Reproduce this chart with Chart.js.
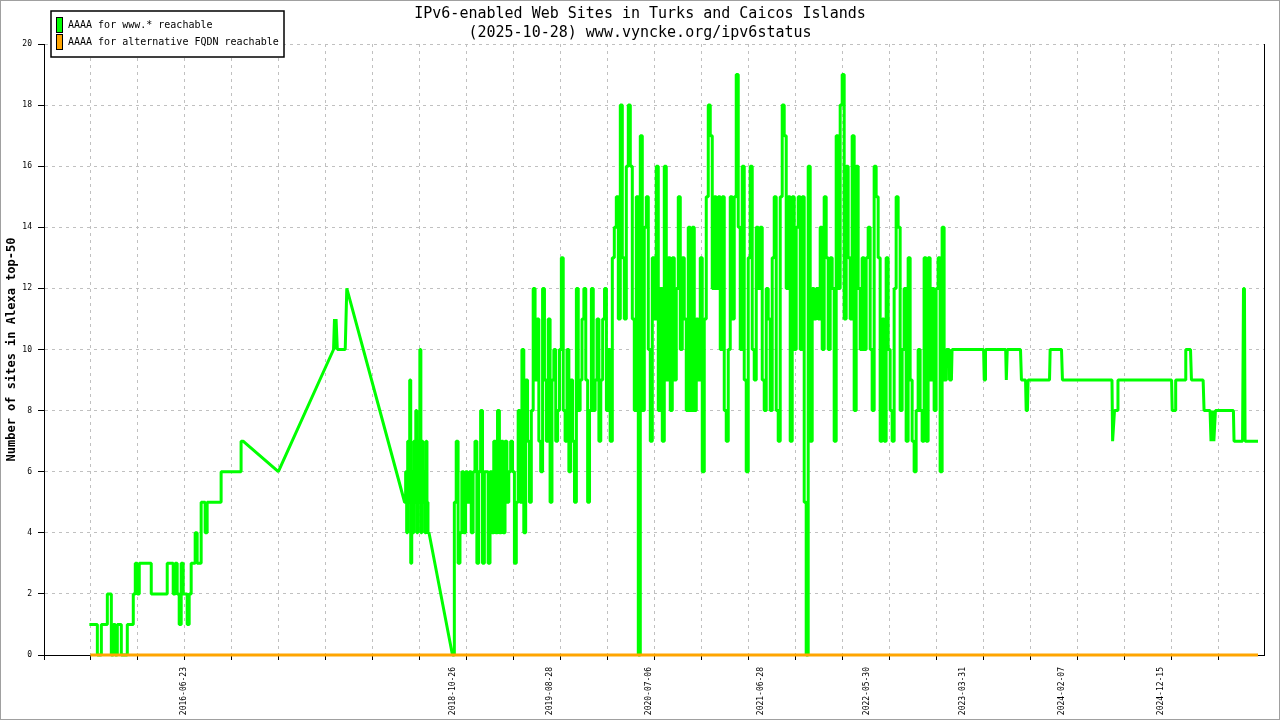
<!DOCTYPE html>
<html>
<head>
<meta charset="utf-8">
<title>IPv6-enabled Web Sites in Turks and Caicos Islands</title>
<script src="https://cdn.jsdelivr.net/npm/chart.js@4.4.1/dist/chart.umd.min.js"></script>
<style>
    html, body { margin: 0; padding: 0; background: #fff; }
    #wrap { width: 1280px; height: 720px; }
</style>
</head>
<body>
<div id="wrap"><canvas id="myChart" width="1280" height="720"></canvas></div>
<script>
// Limites do eixo x e rótulos de datas
const axisStart = '2015-04-07';
const axisEnd = '2025-11-08';
const tickStepDays = 149;
const dateLabels = ['2016-06-23', '2018-10-26', '2019-08-28', '2020-07-06', '2021-06-28',
    '2022-05-30', '2023-03-31', '2024-02-07', '2024-12-15'];

// AAAA for www.* reachable
const earlyStart = '2015-09-01';
const earlyEnd = '2016-12-25';
const earlyValues = [
    1, 1, 1, 1, 0, 0, 1, 1, 1, 2,
    2, 0, 1, 0, 1, 1, 0, 0, 0, 1,
    1, 1, 2, 3, 2, 3, 3, 3, 3, 3,
    3, 2, 2, 2, 2, 2, 2, 2, 2, 3,
    3, 3, 2, 3, 2, 1, 3, 2, 2, 1,
    2, 3, 3, 4, 3, 3, 5, 5, 4, 5,
    5, 5, 5, 5, 5, 5, 6, 6, 6, 6,
    6, 6, 6, 6, 6, 6, 7];

const gapDates = ['2017-04-19', '2017-10-11', '2017-10-14', '2017-10-17', '2017-10-19',
    '2017-10-23', '2017-11-17', '2017-11-22'];
const gapValues = [6, 10, 11, 10, 11, 10, 10, 12];

const clusterStart = '2018-05-26';
const clusterEnd = '2018-08-08';
const clusterValues = [5, 6, 4, 7, 5, 9, 3, 6, 4, 7, 5, 8, 4, 7, 5, 10, 4, 7, 5, 6, 4, 7, 5, 4];

const denseAStart = '2018-10-26';
const denseAEnd = '2020-03-09';
const denseAValues = [
    0, 5, 7, 3, 4, 6, 4, 6, 5, 6,
    4, 6, 7, 3, 6, 8, 3, 6, 6, 3,
    6, 4, 7, 4, 8, 4, 7, 4, 7, 5,
    6, 7, 6, 3, 5, 8, 5, 10, 4, 9,
    7, 5, 8, 12, 9, 11, 7, 6, 12, 9,
    7, 11, 5, 9, 10, 7, 8, 10, 13, 8,
    7, 10, 6, 9, 7, 5, 12, 8, 9, 11,
    12, 9, 5, 8, 12, 8, 9, 11, 7, 9,
    11, 12, 8, 10, 7];

const denseBStart = '2020-03-16';
const denseBEnd = '2023-02-01';
const denseBValues = [
    13, 14, 15, 11, 18, 13, 11, 16, 18, 16,
    11, 8, 15, 0, 17, 8, 14, 15, 10, 7,
    13, 11, 16, 8, 12, 7, 16, 9, 13, 8,
    13, 9, 12, 15, 10, 13, 11, 8, 14, 8,
    14, 8, 11, 9, 13, 6, 11, 15, 18, 17,
    12, 15, 12, 15, 10, 15, 8, 7, 10, 15,
    11, 15, 19, 14, 10, 16, 9, 6, 13, 16,
    10, 9, 14, 12, 14, 9, 8, 12, 11, 8,
    13, 15, 8, 7, 15, 18, 17, 12, 15, 7,
    15, 10, 14, 15, 10, 15, 5, 0, 16, 7,
    12, 11, 12, 11, 14, 10, 15, 13, 10, 13,
    12, 7, 17, 12, 18, 19, 11, 16, 13, 11,
    17, 8, 16, 12, 10, 13, 10, 13, 14, 10,
    8, 16, 15, 13, 7, 11, 7, 13, 10, 8,
    7, 12, 15, 14, 8, 10, 12, 7, 13, 9,
    7, 6, 8, 10, 8, 7, 13, 7, 13, 9,
    12, 8, 12, 13, 6, 14, 9];

const tailDates = ['2023-02-05', '2023-02-14', '2023-02-15', '2023-02-21', '2023-02-23',
    '2023-06-03', '2023-06-05', '2023-06-08', '2023-06-09',
    '2023-08-12', '2023-08-14', '2023-08-15', '2023-08-17',
    '2023-09-28', '2023-10-01', '2023-10-14', '2023-10-16', '2023-10-20', '2023-10-22',
    '2023-12-29', '2023-12-31', '2024-02-05', '2024-02-08',
    '2024-07-14', '2024-07-16', '2024-07-22', '2024-08-01', '2024-08-02',
    '2025-01-19', '2025-01-21', '2025-01-30', '2025-02-01',
    '2025-03-03', '2025-03-05', '2025-03-20', '2025-03-23',
    '2025-04-29', '2025-05-02', '2025-05-21', '2025-05-24', '2025-05-30', '2025-06-02', '2025-06-07',
    '2025-08-03', '2025-08-05', '2025-09-01', '2025-09-04', '2025-09-07', '2025-09-09', '2025-10-20'];
const tailValues = [10, 10, 9, 9, 10,
    10, 9, 9, 10,
    10, 9, 9, 10,
    10, 9, 9, 8, 8, 9,
    9, 10, 10, 9,
    9, 7, 8, 8, 9,
    9, 8, 8, 9,
    9, 10, 10, 9,
    9, 8, 8, 7, 8, 7, 8,
    8, 7, 7, 12, 12, 7, 7];

// AAAA for alternative FQDN reachable
const fqdnDates = ['2015-09-01', '2025-10-20'];
const fqdnValues = [0, 0];

const fonte = '"DejaVu Sans Mono", "Liberation Mono", monospace';
const corGrade = '#c0c0c0';

// Data -> número de dias
const dia = s => Date.parse(s) / 86400000;

// Amostras espaçadas igualmente entre duas datas; cada uma vale durante o seu intervalo
const espalha = (ini, fim, valores) => {
    const a = dia(ini);
    const passo = (dia(fim) - a) / (valores.length - 1);
    return valores.flatMap((v, i) => [
        { x: a + (i - 0.5) * passo, y: v },
        { x: a + (i + 0.5) * passo, y: v },
    ]);
};
const pontos = (datas, valores) => datas.map((d, i) => ({ x: dia(d), y: valores[i] }));

const serieWww = [
    ...espalha(earlyStart, earlyEnd, earlyValues),
    ...pontos(gapDates, gapValues),
    ...espalha(clusterStart, clusterEnd, clusterValues),
    ...espalha(denseAStart, denseAEnd, denseAValues),
    ...espalha(denseBStart, denseBEnd, denseBValues),
    ...pontos(tailDates, tailValues),
];
const serieFqdn = pontos(fqdnDates, fqdnValues);

const ticksRegulares = [];
for (let d = dia(axisStart); d <= dia(axisEnd); d += tickStepDays) {
    ticksRegulares.push(d);
}
const ticksRotulo = new Map(dateLabels.map(s => [dia(s), s]));
const ehRotulo = ctx => ctx.tick !== undefined && ticksRotulo.has(ctx.tick.value);

// Fundo branco e moldura cinza
const moldura = {
    id: 'moldura',
    beforeDraw(chart) {
        const ctx = chart.ctx;
        ctx.save();
        ctx.fillStyle = '#fff';
        ctx.fillRect(0, 0, chart.width, chart.height);
        ctx.strokeStyle = '#a0a0a0';
        ctx.lineWidth = 1;
        ctx.strokeRect(0.5, 0.5, chart.width - 1, chart.height - 1);
        ctx.restore();
    }
};

// Legenda em caixa no canto superior esquerdo
const legendaBox = {
    id: 'legendaBox',
    afterDraw(chart) {
        const ctx = chart.ctx;
        ctx.save();
        ctx.fillStyle = '#fff';
        ctx.fillRect(51, 11, 233, 46);
        ctx.strokeStyle = '#000';
        ctx.lineWidth = 1.5;
        ctx.strokeRect(51, 11, 233, 46);
        ctx.font = '10px ' + fonte;
        ctx.textBaseline = 'middle';
        ctx.textAlign = 'left';
        chart.data.datasets.forEach((ds, i) => {
            const topo = 17 + i * 17;
            ctx.fillStyle = ds.borderColor;
            ctx.fillRect(56.5, topo + 0.5, 6, 15);
            ctx.lineWidth = 1;
            ctx.strokeStyle = '#000';
            ctx.strokeRect(56.5, topo + 0.5, 6, 15);
            ctx.fillStyle = '#000';
            ctx.fillText(ds.label, 68, topo + 8);
        });
        ctx.restore();
    }
};

const ctx = document.getElementById('myChart').getContext('2d');
const myChart = new Chart(ctx, {
    type: 'line',
    data: {
        datasets: [{
            label: 'AAAA for www.* reachable',
            data: serieWww,
            borderColor: '#00ff00',
            backgroundColor: '#00ff00',
            borderWidth: 3,
            borderJoinStyle: 'bevel',
            pointRadius: 0,
            clip: 3,
            order: 2,
        }, {
            label: 'AAAA for alternative FQDN reachable',
            data: serieFqdn,
            borderColor: '#ffa500',
            backgroundColor: '#ffa500',
            borderWidth: 3,
            pointRadius: 0,
            clip: 3,
            order: 1,
        }]
    },
    options: {
        responsive: false,
        animation: false,
        devicePixelRatio: 1,
        events: [],
        layout: { padding: 0, autoPadding: false },
        plugins: {
            legend: { display: false },
            tooltip: { enabled: false },
            title: {
                display: true,
                text: ['IPv6-enabled Web Sites in Turks and Caicos Islands',
                    '(2025-10-28) www.vyncke.org/ipv6status'],
                color: '#000',
                font: { family: fonte, size: 15, weight: 'normal', lineHeight: '19px' },
                padding: { top: 5, bottom: 1 },
            },
        },
        scales: {
            x: {
                type: 'linear',
                min: dia(axisStart),
                max: dia(axisEnd),
                afterBuildTicks: scale => {
                    scale.ticks = [...ticksRegulares, ...ticksRotulo.keys()]
                        .sort((a, b) => a - b)
                        .map(v => ({ value: v }));
                },
                afterFit: scale => { scale.height = 65; },
                grid: {
                    color: ctx => ehRotulo(ctx) ? 'rgba(0,0,0,0)' : corGrade,
                    tickColor: ctx => ehRotulo(ctx) ? 'rgba(0,0,0,0)' : '#000',
                    tickLength: 5,
                    lineWidth: 1,
                },
                border: { color: '#000', width: 1, dash: [3, 4] },
                ticks: {
                    autoSkip: false,
                    minRotation: 90,
                    maxRotation: 90,
                    padding: 7,
                    color: '#000',
                    font: { family: fonte, size: 8 },
                    callback: v => ticksRotulo.get(v) || '',
                },
            },
            y: {
                min: 0,
                max: 20,
                afterFit: scale => { scale.width = 44; },
                ticks: {
                    stepSize: 2,
                    padding: 6,
                    color: '#000',
                    font: { family: fonte, size: 8 },
                },
                grid: { color: corGrade, tickColor: '#000', tickLength: 6 },
                border: { color: '#000', width: 1, dash: [3, 4] },
                title: {
                    display: true,
                    text: 'Number of sites in Alexa top-50',
                    color: '#000',
                    font: { family: fonte, size: 12, weight: 'bold' },
                    padding: { top: 5, bottom: 0 },
                },
            },
            y2: {
                position: 'right',
                min: 0,
                max: 20,
                afterFit: scale => { scale.width = 16; },
                grid: { display: false, drawTicks: false },
                ticks: { display: false },
                border: { display: true, color: '#000', width: 1 },
            },
        },
    },
    plugins: [moldura, legendaBox],
});
</script>
</body>
</html>
